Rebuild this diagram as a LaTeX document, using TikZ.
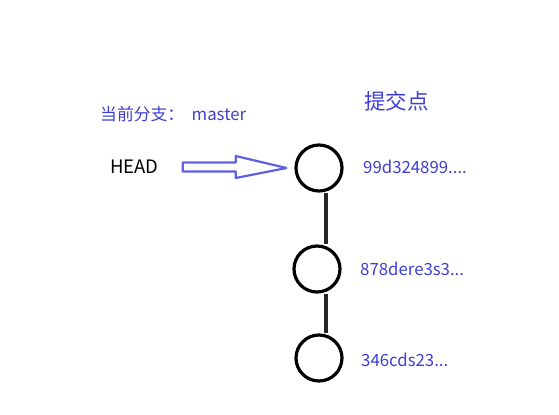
\documentclass[tikz,border=0pt]{standalone}
\usepackage{fontspec}
\setmainfont{Noto Sans CJK SC}
\usetikzlibrary{calc}
\definecolor{cblue}{RGB}{62,62,210}
\definecolor{ablue}{RGB}{95,95,225}
\tikzset{commit/.style={circle,draw=black,line width=3.2bp,minimum size=46bp,inner sep=0pt}}
\tikzset{hash/.style={anchor=west,text=cblue,font=\fontsize{16.8bp}{19bp}\selectfont}}

\begin{document}
\begin{tikzpicture}[x=1bp,y=-1bp]
  \useasboundingbox (0,0) rectangle (559,414);

  \node [commit] (c1) at (319,168) {};
  \node [commit] (c2) at (317,269) {};
  \node [commit] (c3) at (319,358) {};

  \draw [line width=3.4bp,black!85] (c1.south) ++(7,0) coordinate (l1) -- (c2.north -| l1);
  \draw [line width=3.4bp,black!85] (c2.south) ++(9,0) coordinate (l2) -- (c3.north -| l2);

  \node [anchor=west,inner sep=0pt,font=\fontsize{18.5bp}{20bp}\selectfont] (head) at (110,167) {HEAD};
  \node [hash,inner sep=0pt] (branch) at (100,114) {当前分支：\ \ master};
  \node [hash,inner sep=0pt,font=\fontsize{21.5bp}{23bp}\selectfont] (title) at (364,101) {提交点};

  \node [hash,inner sep=0pt] (h1) at (363,167) {99d324899....};
  \node [hash,inner sep=0pt] (h2) at (360,269) {878dere3s3...};
  \node [hash,inner sep=0pt] (h3) at (361,360) {346cds23...};

  % hollow arrow from HEAD to the first commit
  \coordinate (a0) at ($(head.east)+(24,0)$);
  \coordinate (a1) at ($(c1.west)+(-8,0)$);
  \draw [ablue,line width=2.2bp,line join=round]
    ($(a0)+(0,-4.5)$) -- ($(a0)+(53,-4.5)$) -- ($(a0)+(53,-11)$) -- (a1)
    -- ($(a0)+(53,11)$) -- ($(a0)+(53,4.5)$) -- ($(a0)+(0,4.5)$) -- cycle;
\end{tikzpicture}
\end{document}
